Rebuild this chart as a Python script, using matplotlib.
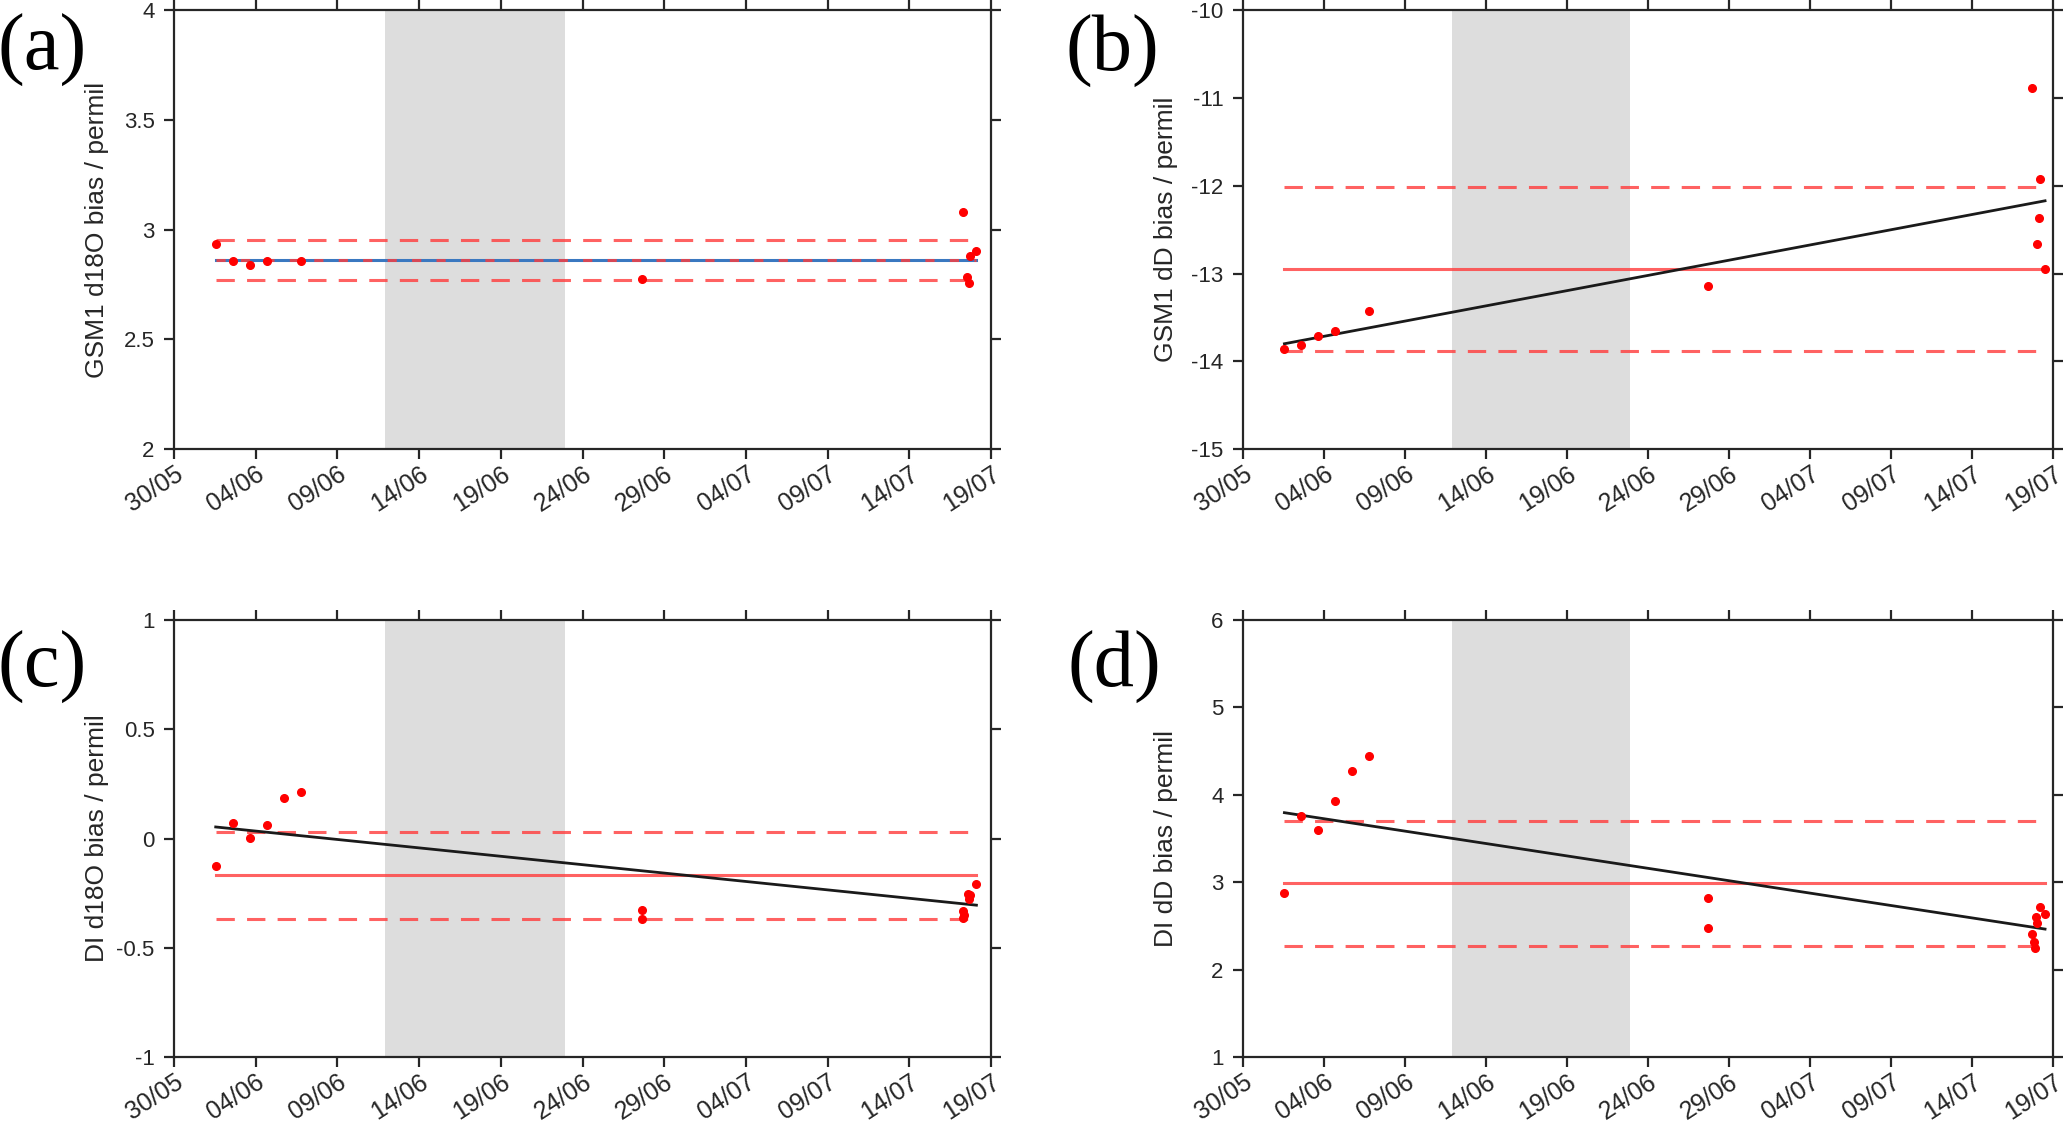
import numpy as np
import matplotlib
matplotlib.use('Agg')
import matplotlib.pyplot as plt

# x values are days after 30/05
tick_days = [0, 5, 10, 15, 20, 25, 30, 35, 40, 45, 50]
tick_labels = ['30/05', '04/06', '09/06', '14/06', '19/06', '24/06',
               '29/06', '04/07', '09/07', '14/07', '19/07']
shade_days = [12.9, 23.9]

# (a) GSM1 d18O
days_a = [2.55, 3.6, 4.63, 5.68, 7.75, 28.65, 48.25, 48.55, 48.65, 48.7, 49.05]
vals_a = [2.935, 2.858, 2.837, 2.858, 2.858, 2.775, 3.08, 2.785, 2.755, 2.88, 2.905]
mean_a = 2.862
band_a = [2.952, 2.772]
trend_a = [2.862, 2.862]

# (b) GSM1 dD
days_b = [2.55, 3.6, 4.63, 5.68, 7.75, 28.7, 48.7, 49.2, 49.12, 49.03, 49.5]
vals_b = [-13.857, -13.81, -13.71, -13.65, -13.43, -13.14, -10.88, -11.916, -12.364, -12.66, -12.95]
mean_b = -12.945
band_b = [-12.01, -13.877]
trend_b = [-13.80, -12.17]

# (c) DI d18O
days_c = [2.55, 3.6, 4.63, 5.68, 6.72, 7.75, 28.65, 28.65,
          48.25, 48.3, 48.35, 48.6, 48.65, 48.7, 49.1]
vals_c = [-0.127, 0.072, 0.003, 0.0625, 0.184, 0.214, -0.326, -0.367,
          -0.33, -0.365, -0.35, -0.255, -0.275, -0.26, -0.21]
mean_c = -0.165
band_c = [0.028, -0.367]
trend_c = [0.053, -0.305]

# (d) DI dD
days_d = [2.55, 3.6, 4.63, 5.68, 6.72, 7.75, 28.7, 28.7,
          48.7, 48.8, 48.85, 48.95, 49.0, 49.2, 49.5]
vals_d = [2.875, 3.755, 3.595, 3.928, 4.269, 4.446, 2.817, 2.476,
          2.41, 2.32, 2.245, 2.6, 2.53, 2.72, 2.64]
mean_d = 2.99
band_d = [3.706, 2.27]
trend_d = [3.796, 2.464]

panels = [
    ('(a)', 'GSM1 d18O bias / permil', days_a, vals_a, mean_a, band_a, trend_a,
     (2, 4), [2, 2.5, 3, 3.5, 4], ['2', '2.5', '3', '3.5', '4']),
    ('(b)', 'GSM1 dD bias / permil', days_b, vals_b, mean_b, band_b, trend_b,
     (-15, -10), [-15, -14, -13, -12, -11, -10], ['-15', '-14', '-13', '-12', '-11', '-10']),
    ('(c)', 'DI d18O bias / permil', days_c, vals_c, mean_c, band_c, trend_c,
     (-1, 1), [-1, -0.5, 0, 0.5, 1], ['-1', '-0.5', '0', '0.5', '1']),
    ('(d)', 'DI dD bias / permil', days_d, vals_d, mean_d, band_d, trend_d,
     (1, 6), [1, 2, 3, 4, 5, 6], ['1', '2', '3', '4', '5', '6']),
]

positions = [
    [0.0842, 0.6016, 0.3953, 0.3891],
    [0.6014, 0.6016, 0.3919, 0.3891],
    [0.0842, 0.0621, 0.3953, 0.3877],
    [0.6014, 0.0621, 0.3919, 0.3877],
]
label_xy = [(42, 50), (1112, 51), (42, 667), (1114, 667)]

plt.rcParams['font.family'] = ['Liberation Sans', 'DejaVu Sans']
fig = plt.figure(figsize=(20.67, 11.27), dpi=100)
dark = '#262626'
red_line = '#ff3b3b'

for i, (tag, ylab, days, vals, mean, band, trend, ylim, yticks, ylabels) in enumerate(panels):
    ax = fig.add_axes(positions[i])
    ax.axvspan(shade_days[0], shade_days[1], color='#dddddd', lw=0, zorder=0)
    x0, x1 = min(days), max(days)
    if tag == '(a)':
        ax.plot([x0, x1], trend, color='#3a78c0', lw=2.2, zorder=2)
        ax.plot([x0, x1], [mean, mean], color=red_line, lw=2.2, ls=(0, (3, 5)), alpha=0.8, zorder=3)
    else:
        ax.plot([x0, x1], [mean, mean], color=red_line, lw=2.2, alpha=0.8, zorder=2)
        ax.plot([x0, x1], trend, color='#1a1a1a', lw=2.0, zorder=3)
    for b in band:
        ax.plot([x0, x1], [b, b], color=red_line, lw=2.2, ls=(0, (6, 4)), alpha=0.8, zorder=2)
    ax.plot(days, vals, 'o', color='red', ms=5.5, mec='red', zorder=4)

    ax.set_xlim(0, 50)
    ax.set_ylim(*ylim)
    ax.set_xticks(tick_days)
    ax.set_xticklabels(tick_labels, rotation=33, ha='right', rotation_mode='anchor')
    ax.set_yticks(yticks)
    ax.set_yticklabels(ylabels)
    ax.tick_params(direction='out', length=7, width=1.6, colors=dark, labelsize=16,
                   top=True, right=True, pad=7)
    ax.tick_params(axis='x', labelsize=18, pad=2)
    for s in ax.spines.values():
        s.set_color(dark)
        s.set_linewidth(1.6)
    ax.set_ylabel(ylab, fontsize=19, color=dark)
    ax.yaxis.set_label_coords(-0.08, 0.5)
    fig.text(label_xy[i][0] / 2067, 1 - label_xy[i][1] / 1127, tag,
             family='Liberation Serif', fontsize=58, ha='center', va='center')

fig.savefig('out.png', dpi=100)
